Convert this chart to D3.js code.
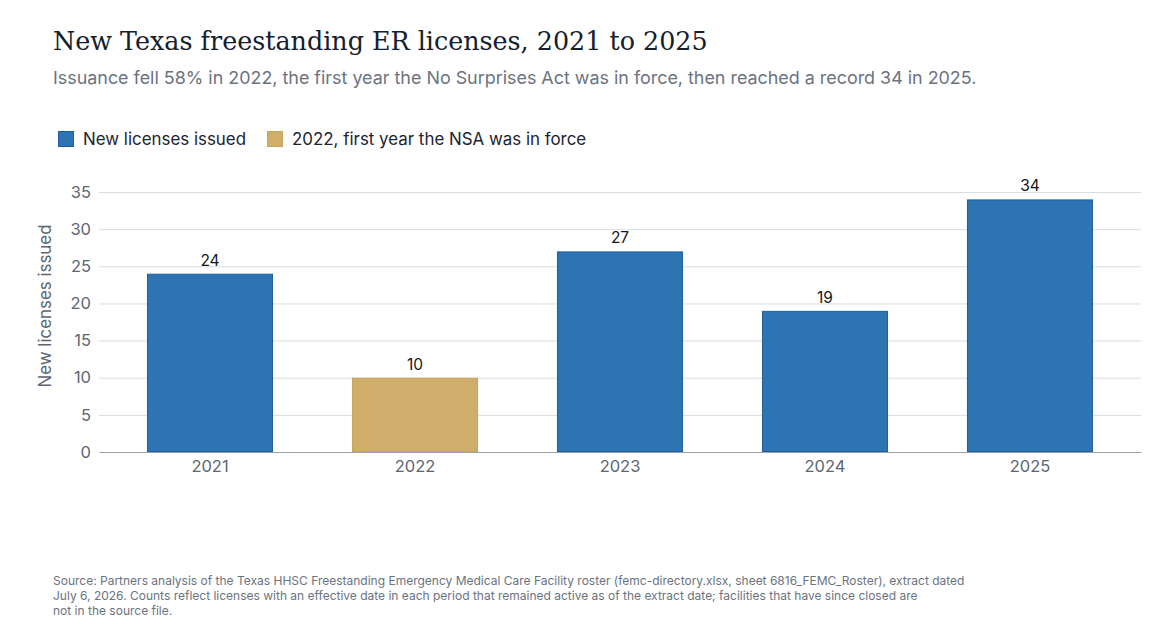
<!DOCTYPE html>
<html>
<head>
<meta charset="utf-8">
<script src="https://cdn.jsdelivr.net/npm/d3@7"></script>
<style>
  html, body { margin: 0; padding: 0; background: #fff; }
  svg { display: block; }
</style>
</head>
<body>
<div id="chart"></div>
<script>
const years = ["2021", "2022", "2023", "2024", "2025"];
const licenses = [24, 10, 27, 19, 34];
const highlightYears = ["2022"];
const yTicks = [0, 5, 10, 15, 20, 25, 30, 35];
const legendLabels = ["New licenses issued", "2022, first year the NSA was in force"];
const footnoteLines = [
  "Source: Partners analysis of the Texas HHSC Freestanding Emergency Medical Care Facility roster (femc-directory.xlsx, sheet 6816_FEMC_Roster), extract dated",
  "July 6, 2026. Counts reflect licenses with an effective date in each period that remained active as of the extract date; facilities that have since closed are",
  "not in the source file."
];

(function() {
  const width = 1170;
  const height = 624;
  const sans = "Inter, 'Noto Sans', sans-serif";
  const serif = "'DejaVu Serif', serif";

  const blue = "#2e74b2";
  const blueEdge = "#1d5f9c";
  const gold = "#cfae6b";
  const goldEdge = "#c8a35a";

  const margin = { top: 192, right: 29, bottom: 172, left: 99 };
  const plotW = width - margin.left - margin.right;
  const plotH = height - margin.top - margin.bottom;

  const svg = d3.select("#chart")
    .append("svg")
    .attr("width", width)
    .attr("height", height);

  // header
  svg.append("text")
    .attr("x", 53)
    .attr("y", 50)
    .attr("font-family", serif)
    .attr("font-size", 25.4)
    .attr("fill", "#14202e")
    .text("New Texas freestanding ER licenses, 2021 to 2025");

  svg.append("text")
    .attr("x", 53)
    .attr("y", 84)
    .attr("font-family", sans)
    .attr("font-size", 17.9)
    .attr("fill", "#6b7380")
    .text("Issuance fell 58% in 2022, the first year the No Surprises Act was in force, then reached a record 34 in 2025.");

  // legend
  const legendColors = [[blue, blueEdge], [gold, goldEdge]];
  const legend = svg.append("g").attr("transform", "translate(58, 131)");
  let lx = 0;
  legendLabels.forEach((label, i) => {
    const item = legend.append("g").attr("transform", `translate(${lx}, 0)`);
    item.append("rect")
      .attr("x", 0.5).attr("y", 0.5)
      .attr("width", 15).attr("height", 15)
      .attr("fill", legendColors[i][0])
      .attr("stroke", legendColors[i][1]);
    const t = item.append("text")
      .attr("x", 25)
      .attr("y", 14)
      .attr("font-family", sans)
      .attr("font-size", 16.9)
      .attr("fill", "#1b2430")
      .text(label);
    lx += 25 + t.node().getComputedTextLength() + 21;
  });

  const g = svg.append("g").attr("transform", `translate(${margin.left}, ${margin.top})`);

  const x = d3.scaleBand()
    .domain(years)
    .range([0, plotW])
    .paddingInner(0.385)
    .paddingOuter(0.234);

  const y = d3.scaleLinear()
    .domain([0, 35])
    .range([plotH, 0]);

  // grid + y axis
  const yAxis = g.append("g")
    .call(d3.axisLeft(y).tickValues(yTicks).tickSize(-plotW).tickPadding(8));
  yAxis.select(".domain").remove();
  yAxis.selectAll(".tick line")
    .attr("stroke", "#d9dce1")
    .attr("stroke-width", 1);
  yAxis.selectAll(".tick text")
    .attr("font-family", sans)
    .attr("font-size", 16.5)
    .attr("fill", "#5d6673");

  g.append("text")
    .attr("transform", `translate(-48, ${plotH / 2 - 16}) rotate(-90)`)
    .attr("text-anchor", "middle")
    .attr("font-family", sans)
    .attr("font-size", 16.9)
    .attr("fill", "#5d6673")
    .text("New licenses issued");

  // bars
  const rows = years.map((yr, i) => ({ year: yr, value: licenses[i] }));
  const isHighlight = d => highlightYears.includes(d.year);

  g.selectAll("rect.bar")
    .data(rows)
    .enter()
    .append("rect")
    .attr("class", "bar")
    .attr("x", d => x(d.year) + 0.5)
    .attr("y", d => y(d.value) + 0.5)
    .attr("width", x.bandwidth() - 1)
    .attr("height", d => plotH - y(d.value) - 1)
    .attr("fill", d => isHighlight(d) ? gold : blue)
    .attr("stroke", d => isHighlight(d) ? goldEdge : blueEdge)
    .attr("stroke-width", 1);

  g.selectAll("text.value")
    .data(rows)
    .enter()
    .append("text")
    .attr("class", "value")
    .attr("x", d => x(d.year) + x.bandwidth() / 2)
    .attr("y", d => y(d.value) - 8)
    .attr("text-anchor", "middle")
    .attr("font-family", sans)
    .attr("font-size", 15.5)
    .attr("fill", "#111820")
    .text(d => d.value);

  // x axis
  const xAxis = g.append("g")
    .attr("transform", `translate(0, ${plotH})`)
    .call(d3.axisBottom(x).tickSize(0).tickPadding(8));
  xAxis.select(".domain")
    .attr("stroke", "#9aa1ab")
    .attr("stroke-width", 1);
  xAxis.selectAll(".tick text")
    .attr("font-family", sans)
    .attr("font-size", 16.5)
    .attr("fill", "#5d6673");

  // footnote
  svg.append("g")
    .selectAll("text")
    .data(footnoteLines)
    .enter()
    .append("text")
    .attr("x", 53)
    .attr("y", (d, i) => 585 + i * 15)
    .attr("font-family", sans)
    .attr("font-size", 12)
    .attr("fill", "#6b7380")
    .text(d => d);
})();
</script>
</body>
</html>
